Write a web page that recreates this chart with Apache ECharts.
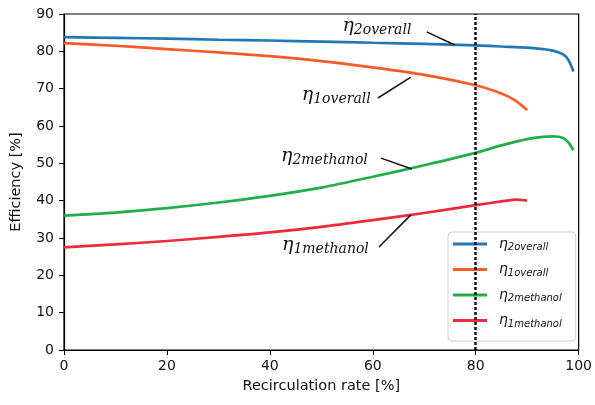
<!DOCTYPE html>
<html><head><meta charset="utf-8">
<script src="https://cdn.jsdelivr.net/npm/echarts@6/dist/echarts.min.js"></script>
<style>html,body{margin:0;padding:0;background:#fff}#c{width:595px;height:405px}</style>
</head><body><div id="c"></div>
<script>
// ---- data ----
const seriesNames = ['η2overall', 'η1overall', 'η2methanol', 'η1methanol'];
const eta2OverallX = [0, 10, 20, 30, 40, 50, 60, 70, 80, 85, 90, 93, 95, 97, 98, 99];
const eta2OverallY = [83.8, 83.6, 83.4, 83.1, 82.9, 82.6, 82.3, 82.0, 81.6, 81.3, 81.0, 80.6, 80.2, 79.2, 77.7, 74.6];
const eta1OverallX = [0, 10, 20, 30, 40, 50, 60, 70, 80, 85, 87.5, 90];
const eta1OverallY = [82.2, 81.5, 80.6, 79.7, 78.7, 77.4, 75.7, 73.7, 70.9, 68.7, 67.0, 64.3];
const eta2MethanolX = [0, 10, 20, 30, 40, 50, 60, 70, 80, 85, 90, 93, 95, 97, 98, 99];
const eta2MethanolY = [36.0, 36.8, 38.0, 39.5, 41.3, 43.5, 46.4, 49.5, 52.8, 54.8, 56.5, 57.1, 57.2, 56.8, 55.6, 53.5];
const eta1MethanolX = [0, 10, 20, 30, 40, 50, 60, 70, 80, 85, 88, 90];
const eta1MethanolY = [27.5, 28.3, 29.2, 30.3, 31.5, 33.0, 34.8, 36.7, 38.8, 39.8, 40.3, 40.0];
const xTicks = [0, 20, 40, 60, 80, 100];
const yTicks = [0, 10, 20, 30, 40, 50, 60, 70, 80, 90];
const markerRate = 80;
// annotations: label text, text centre, leader line start/end (data units)
const annoLabels = ['η2overall', 'η1overall', 'η2methanol', 'η1methanol'];
const annoText = [[60.8, 86.8], [52.9, 68.3], [50.6, 52.0], [50.8, 28.1]];
const annoFrom = [[70.5, 85.2], [61.0, 67.5], [61.6, 51.4], [61.2, 27.6]];
const annoTo = [[75.9, 81.7], [67.4, 73.1], [67.6, 48.5], [67.4, 36.2]];

const colors = ['#1f78b4', '#f95a27', '#22ad4b', '#ec2a3a'];
const zip = (xs, ys) => xs.map((x, i) => [x, ys[i]]);
const allData = [
  zip(eta2OverallX, eta2OverallY),
  zip(eta1OverallX, eta1OverallY),
  zip(eta2MethanolX, eta2MethanolY),
  zip(eta1MethanolX, eta1MethanolY)
];

const chart = echarts.init(document.getElementById('c'), null, {renderer: 'canvas'});
const axisCommon = {
  axisLine: {show: true, lineStyle: {color: '#000', width: 1.2}},
  axisTick: {show: true, inside: false, length: 5, lineStyle: {color: '#000', width: 1}},
  splitLine: {show: false},
  axisLabel: {color: '#111', fontSize: 14, fontFamily: 'DejaVu Sans'},
  nameTextStyle: {color: '#111', fontSize: 14.5, fontFamily: 'DejaVu Sans'}
};
const series = allData.map((d, i) => ({
  name: seriesNames[i],
  type: 'line',
  data: d,
  smooth: 0.3,
  showSymbol: false,
  symbol: 'none',
  lineStyle: {width: 2.7, color: colors[i]},
  itemStyle: {color: colors[i]},
  z: 2 + i
}));
series[3].markLine = {
  silent: true,
  symbol: ['none', 'none'],
  label: {show: false},
  lineStyle: {color: '#111', type: [3, 2], width: 2.5},
  data: [{xAxis: markerRate}],
  z: 10
};
chart.setOption({
  animation: false,
  grid: {left: 64, right: 13, top: 14, bottom: 55, show: true, borderColor: '#000', borderWidth: 1.2, backgroundColor: 'transparent'},
  xAxis: Object.assign({}, axisCommon, {
    type: 'value', min: xTicks[0], max: xTicks[xTicks.length - 1], interval: 20,
    name: 'Recirculation rate [%]', nameLocation: 'middle', nameGap: 29,
    axisLabel: Object.assign({}, axisCommon.axisLabel, {margin: 9})
  }),
  yAxis: Object.assign({}, axisCommon, {
    type: 'value', min: yTicks[0], max: yTicks[yTicks.length - 1], interval: 10,
    name: 'Efficiency [%]', nameLocation: 'middle', nameGap: 40,
    axisLabel: Object.assign({}, axisCommon.axisLabel, {margin: 10})
  }),
  legend: {
    left: 448, top: 232, orient: 'vertical',
    padding: [5, 14, 12, 5], itemGap: 10,
    itemWidth: 34, itemHeight: 3, icon: 'rect',
    backgroundColor: 'rgba(255,255,255,0.8)', borderColor: '#cfcfcf', borderWidth: 1, borderRadius: 4,
    data: seriesNames,
    formatter: n => '{e|' + n.charAt(0) + '}{s|' + n.slice(1) + '}',
    textStyle: {
      padding: [0, 0, 0, 7],
      rich: {
        e: {fontSize: 14, fontStyle: 'italic', fontFamily: 'DejaVu Sans', color: '#111', verticalAlign: 'middle', lineHeight: 17},
        s: {fontSize: 10, fontStyle: 'italic', fontFamily: 'DejaVu Sans', color: '#111', verticalAlign: 'bottom', lineHeight: 12}
      }
    }
  },
  series: series
});

const graphics = [];
annoLabels.forEach((lab, i) => {
  const p = chart.convertToPixel({gridIndex: 0}, annoText[i]);
  const a = chart.convertToPixel({gridIndex: 0}, annoFrom[i]);
  const b = chart.convertToPixel({gridIndex: 0}, annoTo[i]);
  graphics.push({
    type: 'line', z: 20,
    shape: {x1: a[0], y1: a[1], x2: b[0], y2: b[1]},
    style: {stroke: '#111', lineWidth: 1.5}
  });
  graphics.push({
    type: 'text', z: 20, x: p[0], y: p[1],
    style: {
      text: '{e|' + lab.charAt(0) + '}{s|' + lab.slice(1) + '}',
      align: 'center', verticalAlign: 'middle',
      rich: {
        e: {fontSize: 19, fontStyle: 'italic', fontFamily: 'DejaVu Serif', fill: '#111', verticalAlign: 'middle', lineHeight: 22},
        s: {fontSize: 14, fontStyle: 'italic', fontFamily: 'DejaVu Serif', fill: '#111', verticalAlign: 'bottom', lineHeight: 15}
      }
    }
  });
});
chart.setOption({graphic: graphics});
</script>
</body></html>
